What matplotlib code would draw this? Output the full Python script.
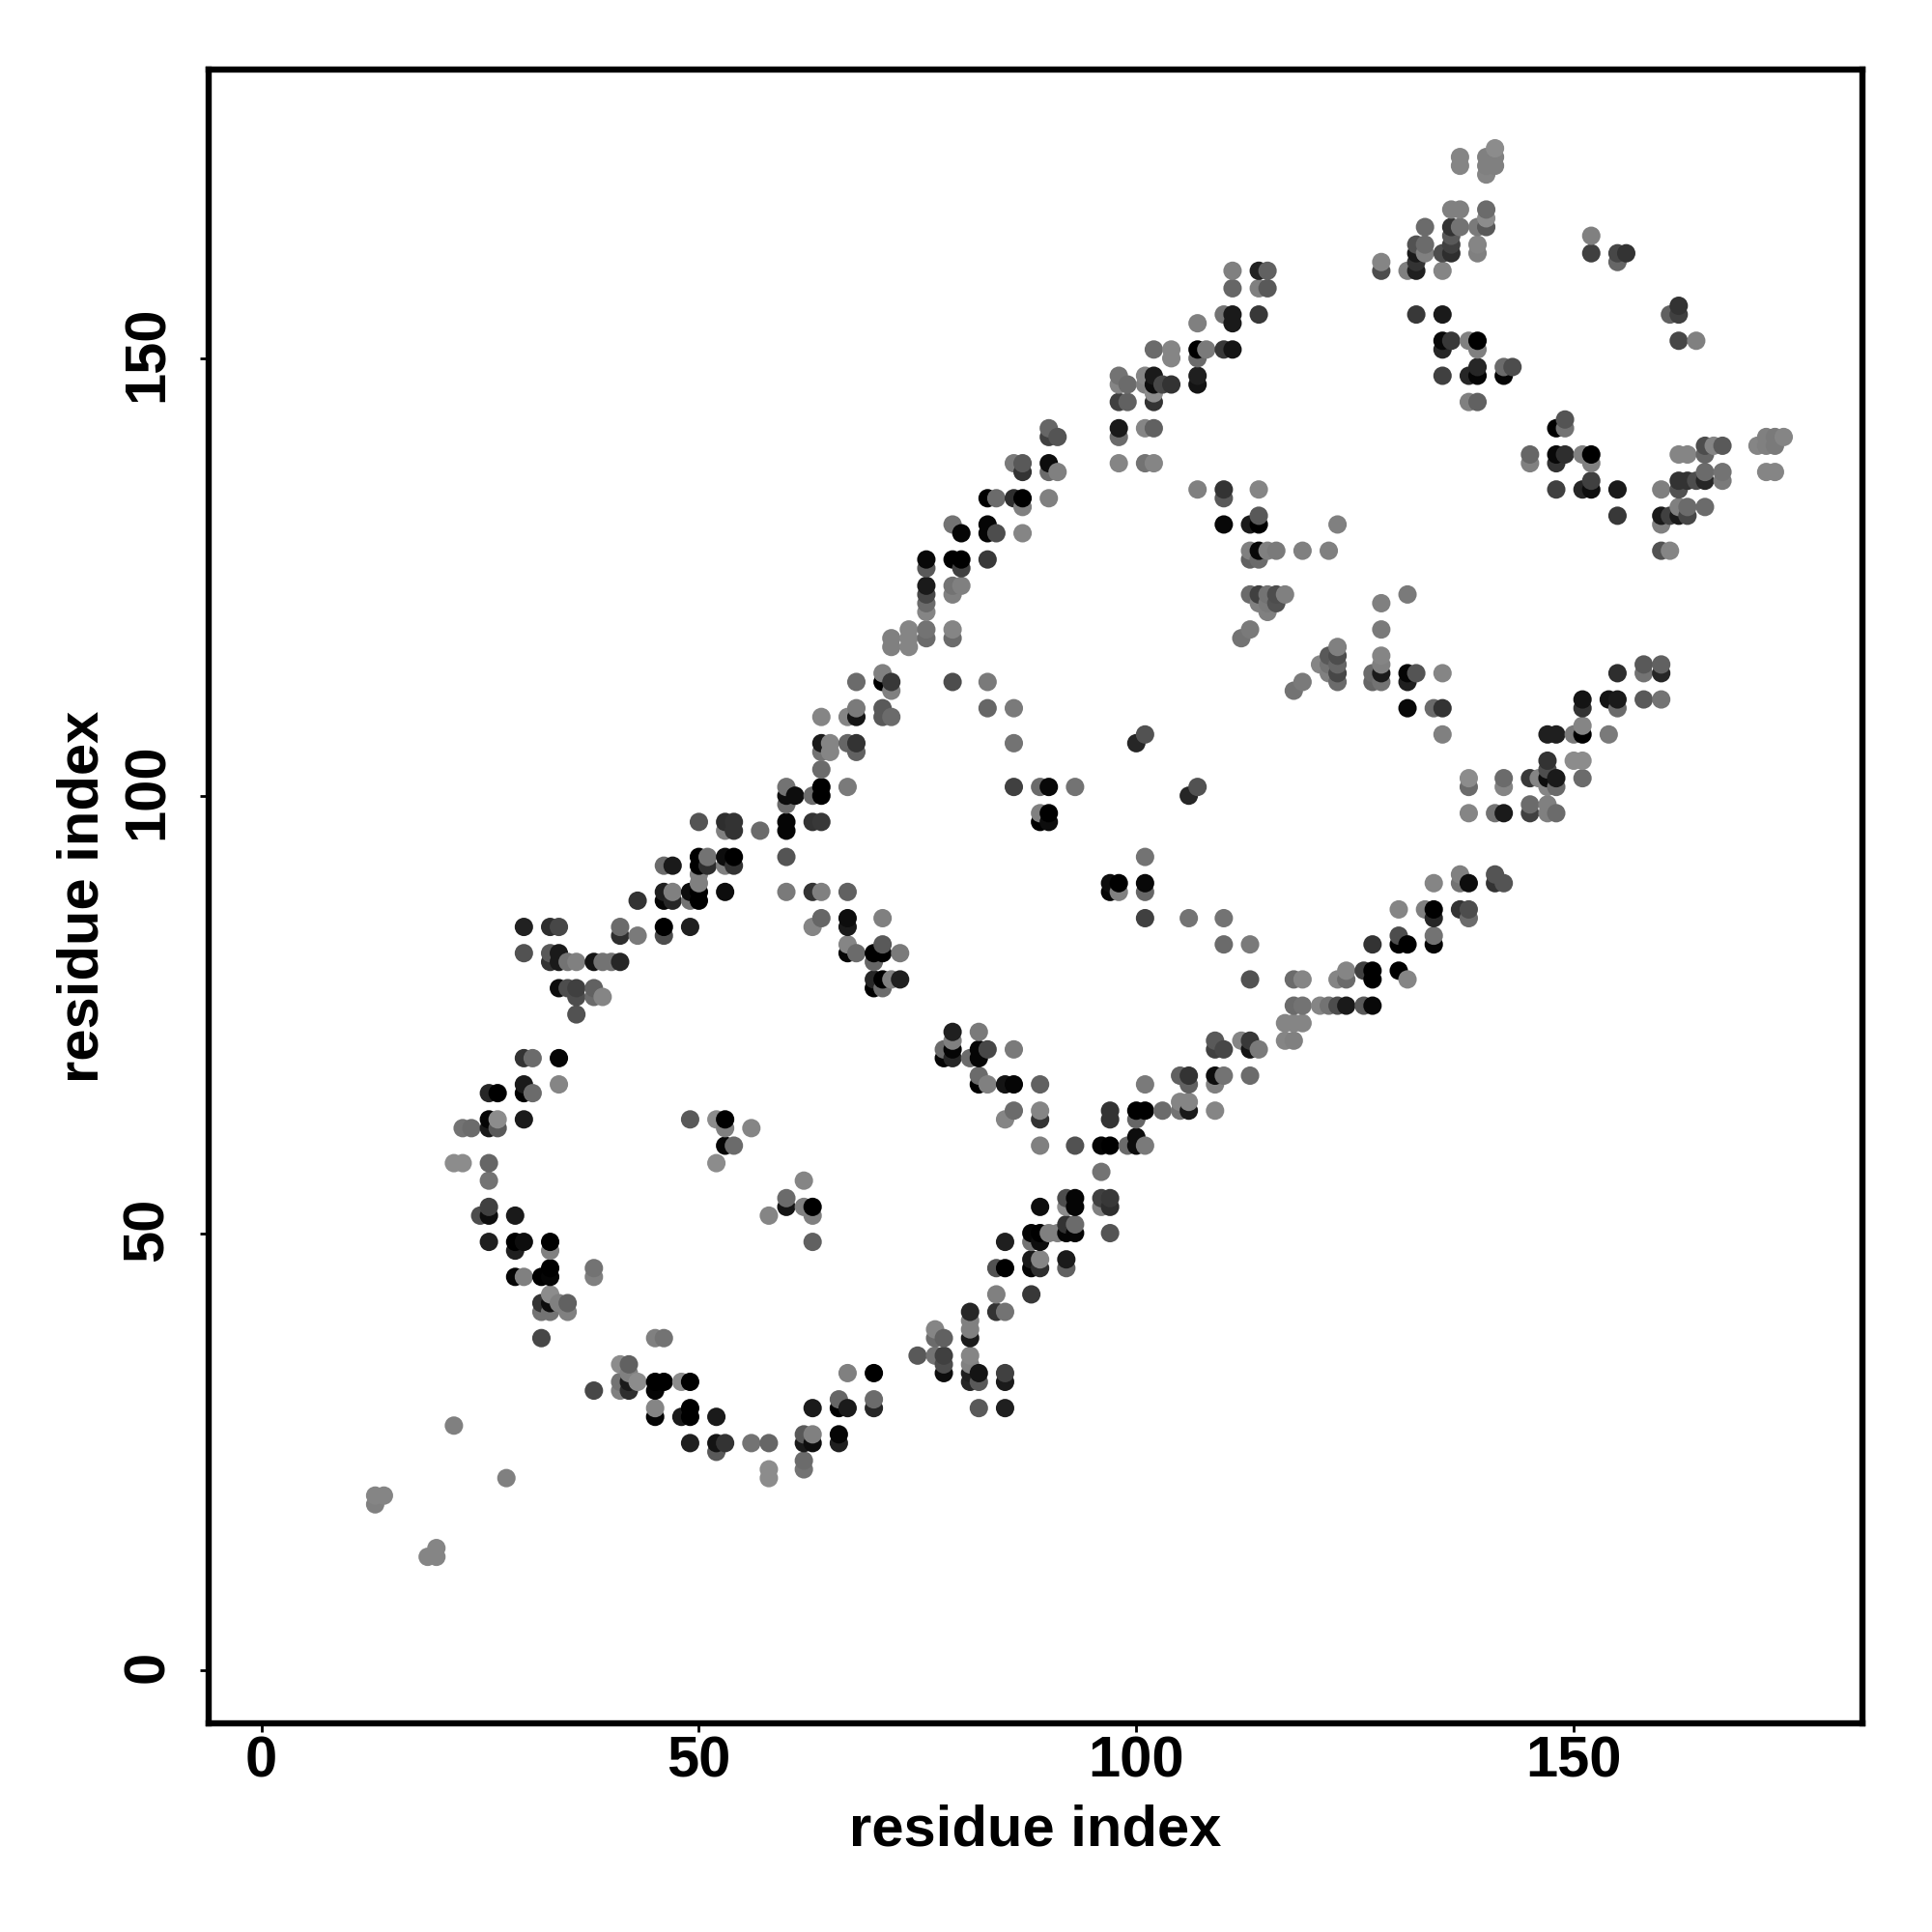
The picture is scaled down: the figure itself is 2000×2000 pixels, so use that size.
import numpy as np
import matplotlib
matplotlib.use('Agg')
import matplotlib.pyplot as plt
from matplotlib.transforms import ScaledTranslation

# one entry per residue on the x axis: contacts on y and grey level of each dot
res_x = [13, 14, 19, 20, 22, 23, 24, 25, 26, 27, 28, 29, 30, 31, 32, 33, 34, 35, 36, 38,
         39, 40, 41, 42, 43, 45, 46, 47, 48, 49, 50, 51, 52, 53, 54, 56, 57, 58, 60, 61,
         62, 63, 64, 65, 66, 67, 68, 70, 71, 72, 73, 74, 75, 76, 77, 78, 79, 80, 81, 82,
         83, 84, 85, 86, 87, 88, 89, 90, 91, 92, 93, 96, 97, 98, 99, 100, 101, 102, 103, 104,
         105, 106, 107, 108, 109, 110, 111, 112, 113, 114, 115, 116, 117, 118, 119, 121, 122, 123, 124, 126,
         127, 128, 130, 131, 132, 133, 134, 135, 136, 137, 138, 139, 140, 141, 142, 143, 145, 146, 147, 148,
         149, 150, 151, 152, 154, 155, 156, 158, 160, 161, 162, 163, 164, 165, 166, 167, 171, 172, 173, 174]

res_y = [
    [19, 20], [20], [13], [13, 14], [28, 58], [58, 62], [62], [52],
    [49, 52, 53, 56, 58, 62, 63, 66], [62, 63, 66], [22], [45, 48, 49, 52],
    [45, 49, 63, 66, 67, 70, 82, 85], [66, 70], [38, 41, 42, 45],
    [41, 42, 43, 45, 46, 48, 49, 81, 82, 85], [42, 67, 70, 78, 81, 82, 85],
    [41, 42, 78, 81], [75, 77, 78, 81], [32, 45, 46, 77, 78, 81],
    [77, 81], [81], [32, 33, 35, 81, 84, 85], [32, 33, 34, 35], [33, 84, 88],
    [29, 30, 32, 33, 38], [33, 38, 84, 85, 88, 89, 92], [88, 89, 92], [29, 33],
    [26, 29, 30, 33, 63, 85, 88, 89], [88, 89, 90, 91, 92, 93, 97], [92, 93],
    [25, 26, 29, 58, 63], [26, 60, 62, 63, 89, 92, 93, 96, 97], [60, 92, 93, 96, 97],
    [26, 62], [96], [22, 23, 26, 52], [53, 54, 89, 93, 96, 97, 99, 100, 101], [100],
    [23, 24, 26, 27, 53, 56], [26, 27, 30, 49, 52, 53, 85, 89, 97, 100],
    [86, 89, 97, 100, 101, 103, 105, 106, 109], [105, 106], [26, 27, 30, 31],
    [30, 34, 82, 83, 85, 86, 89, 101, 106, 109], [82, 105, 106, 109, 110, 113],
    [30, 31, 34, 78, 79, 81, 82], [78, 79, 82, 83, 86, 109, 110, 113, 114],
    [79, 109, 112, 113, 117, 118], [79, 82], [117, 118, 119], [36],
    [118, 119, 121, 122, 123, 124, 126, 127], [36, 38, 39], [34, 35, 36, 38, 70, 71],
    [70, 71, 72, 73, 113, 118, 119, 123, 124, 127, 131], [124, 126, 127, 130],
    [33, 34, 35, 36, 38, 39, 40, 41, 70], [30, 33, 34, 67, 68, 70, 71, 73],
    [67, 71, 110, 113, 127, 130, 131, 134], [41, 43, 46, 130, 134],
    [30, 33, 34, 41, 46, 49, 63, 67], [64, 67, 71, 101, 106, 110, 134, 138],
    [130, 133, 134, 137, 138], [43, 46, 47, 49, 50],
    [46, 47, 49, 50, 53, 60, 63, 64, 67, 97, 98, 101],
    [50, 97, 98, 101, 134, 137, 138, 141, 142], [50, 137, 141],
    [46, 47, 50, 51, 53, 54], [50, 51, 53, 54, 60, 101], [53, 54, 57, 60],
    [50, 53, 54, 60, 63, 64, 89, 90], [89, 90, 138, 141, 142, 145, 147, 148],
    [60, 145, 147], [60, 61, 63, 64, 106],
    [60, 64, 67, 86, 89, 90, 93, 107, 138, 142, 147, 148],
    [138, 142, 145, 146, 147, 148, 151], [64, 147], [147, 150, 151],
    [64, 65, 68], [64, 65, 67, 68, 86, 100], [101, 135, 147, 148, 150, 151, 154],
    [151], [64, 67, 68, 71, 72], [68, 71, 83, 86, 131, 134, 135, 151, 155],
    [151, 154, 155, 158, 160], [72, 118], [68, 71, 72, 79, 83, 119, 123, 127, 128, 131],
    [71, 122, 123, 127, 128, 131, 132, 135, 155, 158, 160],
    [121, 122, 123, 128, 158, 160], [122, 123, 128], [72, 74, 123],
    [72, 74, 76, 79, 112], [74, 76, 79, 113, 128], [76, 115],
    [76, 114, 115, 116, 128], [76, 79, 113, 114, 115, 116, 117, 131], [76, 79, 80], [76, 80],
    [76, 79, 80, 83, 113, 114], [113, 114, 115, 116, 119, 122, 160, 161],
    [80, 83, 84, 87], [79, 83, 110, 113, 114, 123, 160],
    [114, 155, 160, 161, 162, 163], [87, 162, 163, 165], [83, 84, 86, 87, 90, 110],
    [107, 110, 114, 148, 151, 152, 155, 160, 162], [152, 162, 163, 164, 165, 167],
    [87, 90, 91, 165, 167, 172, 173], [86, 87, 90, 98, 101, 102, 145, 148, 152],
    [145, 148, 149, 151, 152, 162, 163, 165], [165, 166, 167, 171, 172, 173],
    [90, 91, 98, 172, 173, 174], [90, 98, 101, 102, 148, 149], [149],
    [98, 99, 102, 138, 139], [102], [98, 99, 101, 102, 103, 104, 107],
    [98, 101, 102, 107, 135, 138, 139, 142],
    [139, 142, 143], [104, 107], [102, 104, 107, 108, 110, 111, 135, 139],
    [135, 136, 138, 139, 162, 164], [107, 111], [110, 111, 114, 132, 135, 161, 162], [162],
    [111, 114, 115], [111, 114, 115, 128, 131, 132, 135], [128, 132, 155],
    [132, 133, 135, 136, 139, 152, 155, 156], [132, 133, 136, 139], [136, 152],
    [133, 136, 137, 139, 140], [140], [136, 137, 140], [140], [137, 140, 141],
    [137, 140, 141], [141]]

res_grey = [
    [.5, .52], [.52], [.52], [.52, .52], [.5, .55], [.55, .45], [.42], [.3],
    [.12, .05, .25, .45, .4, .1, .02, .15], [.35, .55, 0], [.5], [.02, .12, 0, .1],
    [.5, .05, .1, 0, .1, .2, .32, .13], [.42, .42], [.28, .45, .2, 0],
    [.45, .05, .55, .02, 0, .5, 0, .2, .35, .18], [.5, .52, .02, .05, .1, .1, .28],
    [.5, .38, .3, .45], [.32, .3, .25, .5], [.28, .5, .45, .42, .38, .08],
    [.52, .45], [.45], [.5, .45, .55, .15, .18, .42], [.18, .1, .5, .38], [.55, .48, .2],
    [.02, .52, .02, 0, .5], [0, .45, .3, 0, .02, .12, .42], [.15, .5, .1], [.1, .55],
    [.12, 0, 0, 0, .35, .12, .45, .05], [0, 0, .5, .5, 0, 0, .33], [.18, .45],
    [.35, .08, .1, .55, .55], [.2, .02, .5, 0, .05, .5, .05, .5, .18], [.42, .2, 0, .2, .2],
    [.45, .52], [.42], [.55, .55, .4, .52], [.08, .42, .48, .33, .02, .02, .42, .05, .45], [.05],
    [.45, .42, .1, .35, .5, .52], [.05, .5, .1, .38, .5, 0, .52, .2, .2, .42],
    [.4, .5, .22, 0, 0, .42, .45, .1, .52], [.52, .52], [.12, .02, 0, .4],
    [.1, .5, .02, .52, .1, .05, .38, .48, .4, .52], [.42, .38, .2, .08, .48, .42],
    [.15, .42, 0, 0, .15, .4, 0], [.42, 0, 0, .35, .5, .35, .35, 0, .5],
    [.5, .42, .5, .22, .5, .5], [.12, .48], [.52, .52, .52], [.35],
    [.42, .45, .52, .42, .28, .1, .35, .03], [.45, .42, .52], [.05, .3, .25, .38, .02, .42],
    [.15, .02, .5, .12, .3, .42, .52, .5, .45, 0, .45], [.5, .25, 0, .02],
    [.15, .12, .5, .52, .1, .5, .5, .15, .42], [.35, .35, .08, 0, .42, .02, .02, .48],
    [.5, .28, .4, .48, .22, .02, .02, 0], [.2, .5, .32, .3, .42],
    [.12, .1, .25, .45, 0, .12, .52, .08], [.42, .02, .48, .25, .45, .48, .18, .48],
    [.52, .5, 0, .2, .35], [.22, .02, .1, .45, .02],
    [.18, .52, .05, 0, .05, .5, .2, .52, .38, 0, .5, .42],
    [.5, .05, 0, .03, .5, .42, .05, .25, .4], [.5, .5, .33],
    [.38, .1, .02, .2, .55, .3], [.02, .42, .02, .02, .32, .45], [.5, .25, .45, .02],
    [.33, .18, .22, 0, .2, .2, .02, .05], [.5, 0, .52, .42, .1, .25, .52, .45],
    [.42, .38, .42], [.05, .05, .4, 0, .15],
    [.48, 0, .48, .25, .4, .03, .45, .32, .45, .52, .5, .52],
    [.52, .38, .2, .55, .05, .1, .42], [.42, .28], [.2, .52, .52],
    [.45, .52, .38], [.1, .52, .38, .2, .45, .15], [.32, .5, .08, .12, .42, 0, .5],
    [.48], [.52, .5, .05, .25, .35], [.45, .28, .42, .45, .03, .35, .2, .22, .45],
    [.08, .1, .1, .4, .5], [.52, .45], [.42, .08, .22, .32, .48, .48, .42, .38, .5, .1],
    [.48, .5, .25, .42, .03, 0, .35, .52, .22, .5, .13],
    [.5, .48, .45, .5, .35, .38], [.32, .3, .48], [.52, .52, .5],
    [.5, .52, .42, .42, .45], [.52, .45, .52, .48, .5], [.52, .52],
    [.45, .5, .45, .35, .5], [.3, .52, .42, .28, .4, .3, .5, .5], [.1, .42, .52], [.35, .25],
    [.03, 0, 0, .2, .4, .42], [.45, .1, .5, .52, .48, .5, .3, .52],
    [0, 0, .3, .52], [.52, 0, .03, .12, .02, .48, .5],
    [.33, .22, .12, .2, .1, .32], [.5, .5, .42, .42], [.02, .45, .15, 0, .52, .42],
    [.5, .2, .52, .25, .15, .03, .1, .52, .3], [.22, .18, .25, .35, .2, .5],
    [.2, .45, .5, .45, .5, .52, .52], [.42, .3, .05, .52, .42, .55, .5, .15, .5],
    [.38, .02, .15, .5, 0, .5, .52, .48], [.35, .55, .42, .52, .5, .5],
    [.2, .33, .45, .5, .5, .55], [.33, .1, .52, .42, .02, .42], [.3],
    [.25, .42, .22, .5, .4], [.52], [.5, .5, .52, .05, .3, .2, .12],
    [.42, .42, .1, .12, .25, .2, .03, 0],
    [.18, .45, .33], [.55, .48], [.42, .55, 0, .52, .2, .08, .15, .5],
    [.05, .25, .5, 0, .25, .5], [.48, .08], [.42, .1, .18, .22, .1, .4, .28], [.2],
    [.35, .45, .35], [.45, .15, .38, .32, .5, .1, .5], [.52, .25, .38],
    [.1, .5, .32, .2, .52, .28, .25, .2], [.28, .42, .2, .52], [.3, .5],
    [.42, .15, .42, .4, .3], [.52], [.48, .45, .35], [.52], [.52, .5, .5],
    [.52, .48, .48], [.52]]

tick_vals = [0, 50, 100, 150]

plt.rcParams['font.family'] = ['Liberation Sans', 'DejaVu Sans']
plt.rcParams['font.weight'] = 'bold'

xs = []
ys = []
greys = []
for i, x in enumerate(res_x):
    for y, g in zip(res_y[i], res_grey[i]):
        xs.append(x)
        ys.append(y)
        greys.append(g)
xs = np.array(xs)
ys = np.array(ys)
greys = np.array(greys)

fig = plt.figure(figsize=(20, 20), dpi=100)
ax = fig.add_axes([216.3 / 2000, 1 - 1783.7 / 2000, (1928 - 216.3) / 2000, (1783.7 - 72) / 2000])

# later residues sit on top, same as the loop that drew the original
ax.scatter(xs, ys, s=188, c=np.column_stack((greys, greys, greys)), linewidths=0, zorder=3)

ax.set_xlim(-6, 183)
ax.set_ylim(-6, 183)
ax.set_xticks(tick_vals)
ax.set_yticks(tick_vals)
ax.tick_params(length=6.5, width=2, labelsize=43)
ax.tick_params(axis='x', pad=3)
ax.tick_params(axis='y', pad=19)
plt.setp(ax.get_yticklabels(), rotation=90, va='center')
# rotated labels sit a little low, nudge them up
nudge = ScaledTranslation(0, 3 / 72, fig.dpi_scale_trans)
for lab in ax.get_yticklabels():
    lab.set_transform(lab.get_transform() + nudge)
for s in ax.spines.values():
    s.set_linewidth(4.6)
ax.set_xlabel('residue index', fontsize=43, fontweight='bold', labelpad=11)
ax.set_ylabel('residue index', fontsize=43, fontweight='bold', labelpad=9)

plt.savefig('out.png', dpi=100)
